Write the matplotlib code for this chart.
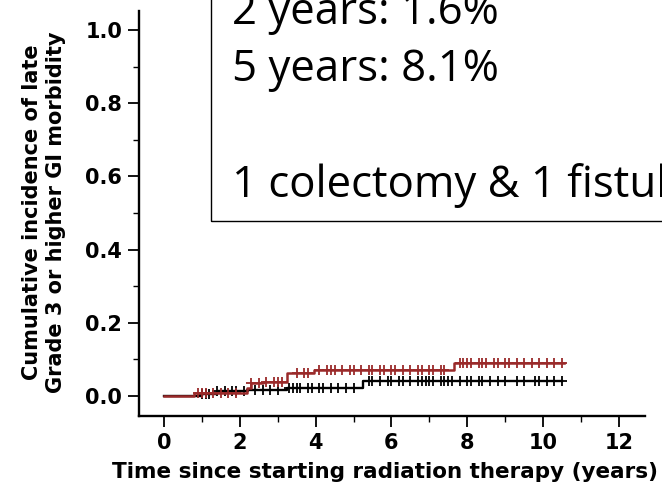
import matplotlib
matplotlib.use("Agg")
import matplotlib.pyplot as plt
import numpy as np
from matplotlib.patches import Rectangle

# step curves (years, cumulative incidence)
red_t = [0.0, 0.8, 2.2, 2.3, 2.6, 3.25, 3.95, 7.65, 10.55]
red_y = [0.0, 0.009, 0.022, 0.034, 0.039, 0.063, 0.071, 0.091, 0.091]
black_t = [0.0, 1.0, 1.4, 2.2, 3.25, 5.25, 10.5]
black_y = [0.0, 0.006, 0.012, 0.016, 0.022, 0.042, 0.042]

# censoring marks
red_cens = [0.9, 1.0, 1.1, 1.3, 1.5, 1.7, 1.9, 2.3, 2.5, 2.7, 2.9, 3.0, 3.1,
            3.5, 3.7, 3.8, 4.1, 4.3, 4.4, 4.5, 4.7, 4.9, 5.0, 5.2, 5.4, 5.5,
            5.7, 5.8, 6.0, 6.1, 6.3, 6.5, 6.7, 6.8, 7.0, 7.1, 7.3, 7.4, 7.8,
            7.9, 8.0, 8.1, 8.3, 8.4, 8.5, 8.7, 8.8, 9.0, 9.1, 9.3, 9.5, 9.7,
            9.9, 10.1, 10.3, 10.5]
black_cens = [1.0, 1.1, 1.2, 1.4, 1.6, 1.8, 1.9, 2.1, 2.4, 2.6, 2.8, 3.0, 3.3,
              3.4, 3.5, 3.6, 3.8, 3.9, 4.1, 4.2, 4.4, 4.6, 4.8, 5.0, 5.4, 5.5,
              5.7, 5.9, 6.0, 6.2, 6.3, 6.5, 6.7, 6.8, 6.9, 7.0, 7.1, 7.3, 7.4,
              7.5, 7.6, 7.8, 8.0, 8.1, 8.3, 8.4, 8.6, 8.8, 9.0, 9.3, 9.5, 9.8,
              9.9, 10.1, 10.3, 10.5]

box_lines = ["2 years: 1.6%", "5 years: 8.1%", "", "1 colectomy & 1 fistula"]

RED = "#9a2a2a"
W, H = 662, 488


def level(ts, ys, at):
    i = np.searchsorted(ts, at, side="right") - 1
    return np.asarray(ys)[i]


fig = plt.figure(figsize=(W / 100, H / 100), dpi=100)
ax = fig.add_axes([139 / W, 1 - 416 / H, (645 - 139) / W, (416 - 11) / H])

ax.step(black_t, black_y, where="post", color="black", lw=1.7, zorder=2)
ax.plot(black_cens, level(black_t, black_y, black_cens), "+", color="black",
        ms=7, mew=1.3, zorder=2)
ax.step(red_t, red_y, where="post", color=RED, lw=1.8, zorder=3)
ax.plot(red_cens, level(red_t, red_y, red_cens), "+", color=RED,
        ms=7, mew=1.3, zorder=3)

ax.set_xlim(-0.66, 12.69)
ax.set_ylim(-0.055, 1.052)
ax.set_xticks(np.arange(0, 13, 2))
ax.set_xticks(np.arange(1, 13, 2), minor=True)
ax.set_yticks(np.arange(0, 1.01, 0.2))
ax.set_yticks(np.arange(0.1, 1.0, 0.2), minor=True)
ax.set_yticklabels([f"{v:.1f}" for v in np.arange(0, 1.01, 0.2)])

for s in ("top", "right"):
    ax.spines[s].set_visible(False)
for s in ("left", "bottom"):
    ax.spines[s].set_linewidth(1.7)
ax.tick_params(which="major", direction="out", length=8, width=1.3,
               labelsize=15, pad=4)
ax.tick_params(which="minor", direction="out", length=4, width=1.0)
for lab in ax.get_xticklabels() + ax.get_yticklabels():
    lab.set_fontweight("bold")

fig.text(385 / W, 1 - 472 / H, "Time since starting radiation therapy (years)",
         fontsize=15.5, fontweight="bold", ha="center", va="center")
fig.text(44 / W, 1 - 212 / H,
         "Cumulative incidence of late\nGrade 3 or higher GI morbidity",
         fontsize=15, fontweight="bold", rotation=90, ha="center",
         va="center", multialignment="center", linespacing=1.25)

# the text box, running off the top and right edges
fig.patches.append(Rectangle((211 / W, 1 - 221 / H), 1.0, 1.0,
                             transform=fig.transFigure, fill=False,
                             edgecolor="black", lw=1.0, zorder=5))
for i, line in enumerate(box_lines):
    fig.text(232 / W, 1 - (24 + 57.5 * i) / H, line, fontsize=31.5,
             family="Open Sans", va="baseline", ha="left", zorder=6)

fig.savefig("out.png", dpi=100)
